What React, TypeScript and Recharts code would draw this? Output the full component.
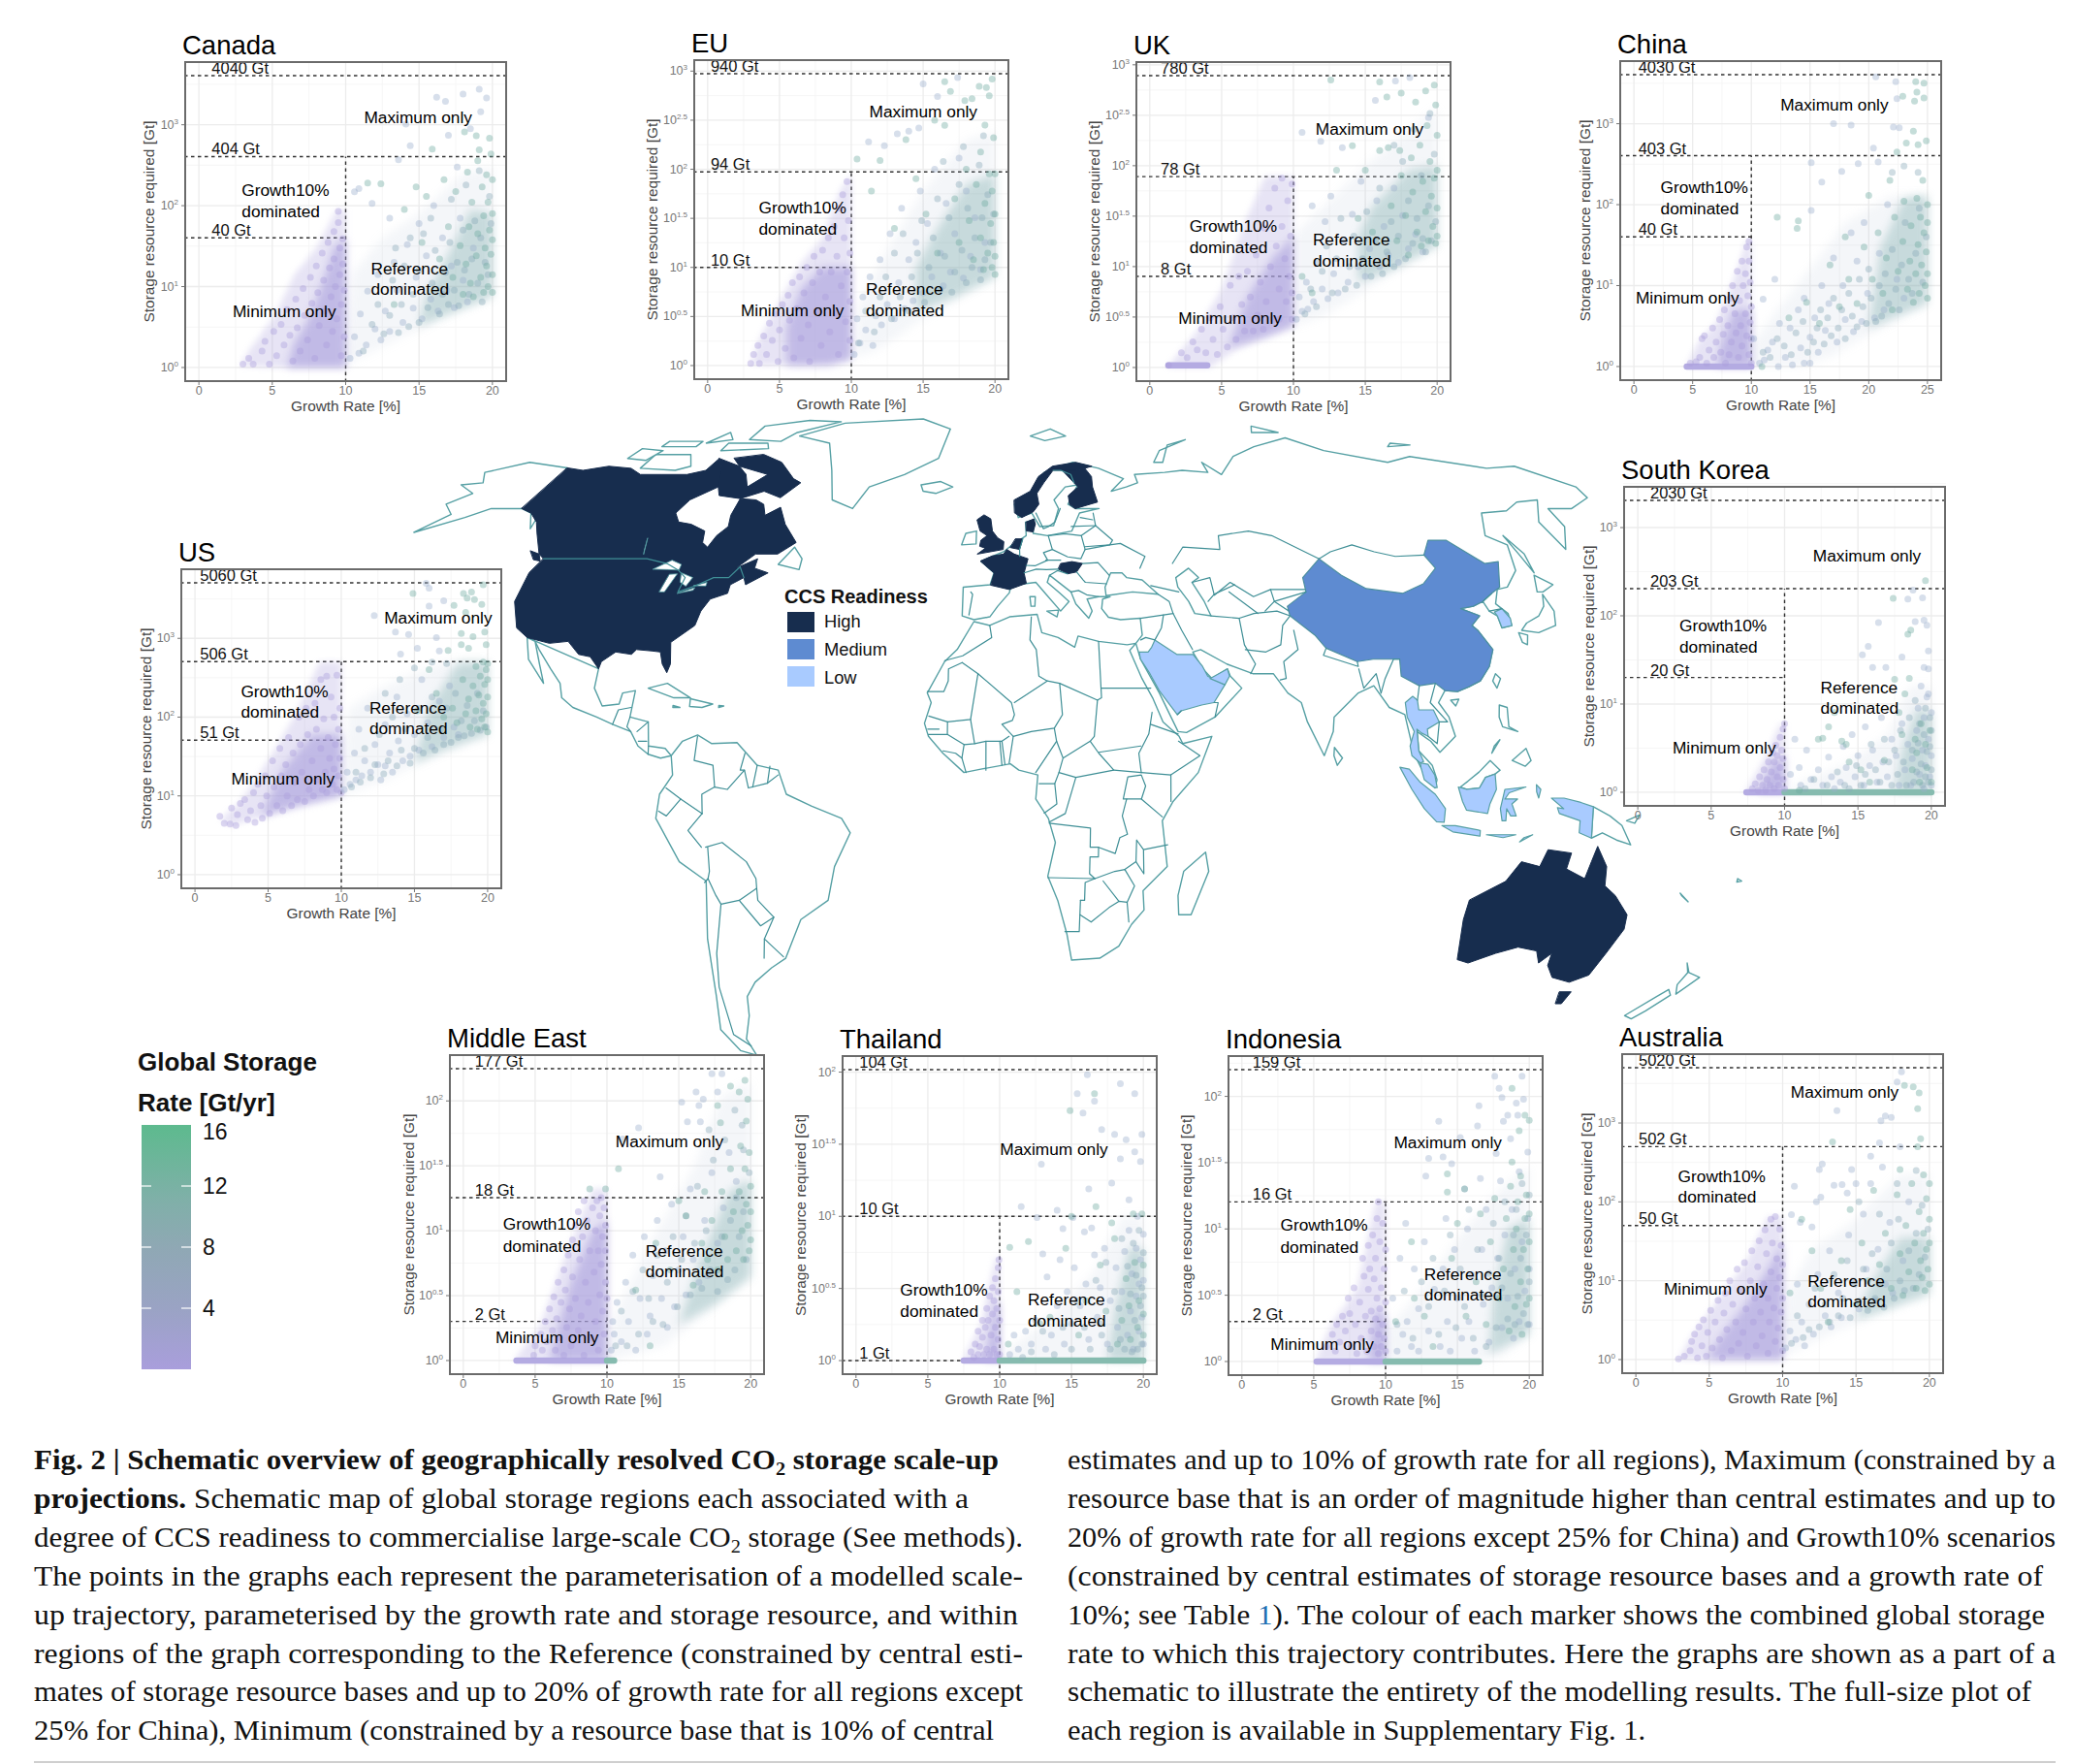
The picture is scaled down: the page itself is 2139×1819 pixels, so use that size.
import { CartesianGrid, ReferenceDot, ReferenceLine, Scatter, ScatterChart, XAxis, YAxis } from 'recharts'

type Pair = [number, number]
type Note = [string, number, number]

const SANS = '"Liberation Sans", Arial, sans-serif'
const SERIF = '"Liberation Serif", "Times New Roman", serif'

// ---- map outlines, lon/lat, rough hand read -------------------------------
const highReadiness: Pair[][] = [
  [[-141,69.6],[-135,69],[-128,70],[-120,69.5],[-115,68],[-108,68],[-100,68],[-95,69],[-94,72],[-90,69],[-85,69.5],[-81,68],[-87,65],[-93,62],[-94.5,59],[-92,57],[-88,56.5],[-83,55],[-82,52.5],[-80,51.5],[-79,54],[-77,56],[-78,58.5],[-78,62.3],[-73,62],[-70,61],[-68,58.5],[-64.5,60.3],[-61,56.5],[-56,52.5],[-60,50],[-66,50],[-70,47],[-65,49],[-65,47],[-61,46],[-66,43.5],[-67,45],[-69,47.3],[-71,45],[-75,45],[-79,43.3],[-83,42],[-82.5,45],[-85,46.5],[-89,48],[-95,49],[-123,49],[-125,50],[-130,54.5],[-133,57],[-137,59],[-141,60]],
  [[-94,72],[-85,70],[-81,68],[-78,65],[-72,64],[-78,62.3],[-85,63],[-87,65],[-90,69]],
  [[-80,73],[-72,71],[-65,67],[-62,66],[-66,62.5],[-72,64],[-78,65],[-74,68],[-85,70],[-89,72]],
  [[-123,49],[-95,49],[-89,48],[-85,46.5],[-82.5,45],[-83,42],[-79,43.3],[-75,45],[-71,45],[-69,47.3],[-67,45],[-70,43.5],[-70,41.7],[-74,40.5],[-75.5,38],[-76,35],[-81,31.5],[-80,27],[-80.5,25.2],[-82,27],[-83,29.5],[-85,29.7],[-89,30],[-90,29],[-94,29.5],[-97,27.5],[-97.3,26],[-100,28.5],[-103,29],[-106.5,31.7],[-111,31.3],[-117,32.5],[-120.5,34.5],[-124,40],[-124.5,46]],
  [[-128,50.7],[-125,50],[-123.5,48.5],[-125.5,48.8]],
  [[-5.5,50],[1.5,51],[1.7,52.7],[0,53.5],[-1.5,55],[-2,57.7],[-4,58.6],[-6,57.5],[-5,55],[-3,54],[-4.7,53],[-5,51.7],[-3.5,51.3]],
  [[-1.8,43.4],[3,42.5],[7.5,43.8],[7,46],[8.2,49],[4.5,50],[2.5,51],[1.6,50],[-1.5,49.6],[-4.7,48.5],[-1,46]],
  [[3.5,51.4],[6,51],[7,53.3],[5,53.3]],
  [[8.2,55],[10,54.8],[10.8,56.5],[10.5,57.7],[8.2,57]],
  [[5,59],[7,58],[10.5,59.3],[12.3,61],[12,63.5],[14.5,66],[18,69],[21,69],[25.5,69],[28.5,69.5],[31,70],[26,71],[18,70],[13,67.5],[10,64],[5,62]],
  [[23,60],[30,61.5],[29.5,65],[30,67.5],[28.5,69.5],[25.5,69],[21,69],[24,66],[25,65],[21.5,63],[21.5,61]],
  [[16.2,46.8],[18.5,45.8],[21,46.2],[22.8,48],[20,48.4],[17,48]],
  [[114,-22],[113.5,-26],[115,-34.3],[118,-35],[124,-33],[129,-31.7],[134,-32.5],[135.7,-35],[138,-33],[138.3,-35.5],[141,-38],[146,-39],[150,-37.5],[151.5,-33],[153.5,-28],[153,-25],[149,-21],[146,-19],[145.5,-15],[142.7,-10.8],[141.7,-14],[140.8,-17.5],[136,-15.5],[136.7,-12.2],[131,-11.5],[129.5,-15],[125,-14],[122,-18]],
  [[145,-41],[148,-41],[147.5,-43.5],[146,-43.5]],
]
const mediumReadiness: Pair[][] = [
  [[74,39],[80,42],[80.5,45],[87,49],[91,45.5],[96,42.7],[105,41.7],[111.5,43.7],[117,47],[116,49.8],[120,53],[125,53],[131,48],[135,48.4],[131,43],[128,41.7],[124.5,40],[121.5,39],[118,38.5],[122,37],[119,35],[120,34],[122,30],[120,26.5],[117,23.5],[114,22.3],[111,21.3],[108,21.5],[106,23],[102,22.5],[98,24.5],[98.5,28],[92,28],[88,27.5],[81,30.3],[79,33],[74,37]],
]
const lowReadiness: Pair[][] = [
  [[35,28],[34.8,29.5],[37,29.5],[38,30.5],[39,32],[44,29],[48,29],[50,26.5],[51,24.5],[55,22.7],[52,19],[49,18.5],[44,17.3],[43,16.5],[41,19],[39,21.5],[37,25]],
  [[51.5,24],[56,26],[56.3,24.5],[55,22.7]],
  [[126.2,37.8],[128.5,38.5],[129.5,36.5],[129,35],[126.3,34.5],[126.5,37]],
  [[98,10],[99.3,13],[98,16],[98,19],[100,20.3],[101,19.5],[101,17.5],[104.5,17.5],[105.5,15],[102.5,13.5],[102.5,12],[101,12.7],[100,13.5],[100,9],[101,6.8],[100.2,6.5],[98.3,8]],
  [[100.2,6.5],[102,6.2],[103.5,4],[104,1.4],[103.3,1.4],[101,3],[100.3,5.5]],
  [[95.3,5.6],[97.5,5.2],[100,2.5],[103.5,0],[106,-3],[105.8,-5.8],[104,-5.7],[101,-3],[98,1]],
  [[105.3,-6.5],[108.5,-6.5],[114.5,-7.5],[114.5,-8.7],[108,-7.8]],
  [[109,1.5],[111,1],[114,1.3],[115.5,3.5],[117.8,4.2],[118,1],[116.5,-2],[116,-4],[111,-3.3],[110,-1.5]],
  [[120,1],[125,1.5],[121,0.3],[120,-1],[123,-1],[121.7,-2],[122.8,-4.5],[121.5,-4.5],[120.5,-3],[120.4,-5.5],[119.5,-5.5],[119,-3]],
  [[131,-0.8],[134,-0.8],[138,-1.7],[141,-2.6],[141,-9.1],[138,-8],[138,-5.5],[133,-4],[132.5,-2.8],[134,-3]],
  [[116,-8.4],[119,-8.4],[123,-8.4],[120,-9]],
  [[124,-9.9],[127,-8.4],[125,-9]],
  [[127.5,2],[128.5,1],[128,-0.8],[127.5,0.5]],
]
const coastlines: Pair[][] = [
  [[-141,69.6],[-156,71],[-166,68.5],[-162,66],[-168,65.5],[-161,63.5],[-165,61],[-160,58.7],[-165,54.7],[-155,58],[-150,60],[-141,60],[-137,59],[-133,55.5]],
  [[-73,78],[-60,82],[-30,83.5],[-18,80],[-20,72],[-30,68],[-40,65],[-43,60],[-50,62],[-54,69],[-60,76]],
  [[-90,77],[-78,76.5],[-75,79],[-62,82.5],[-75,83],[-90,81]],
  [[-117,69.5],[-105,69],[-101,70],[-105,73],[-117,73]],
  [[-125,72],[-118,71.5],[-116,74],[-124,74.5]],
  [[-96,74],[-80,74.5],[-82,76],[-96,76]],
  [[-118,75],[-106,75],[-106,76.5],[-118,76.5]],
  [[-104,76],[-96,77],[-100,79]],
  [[-59,47.8],[-53,46.7],[-53,49],[-56,51.5]],
  [[-117,32.5],[-114.7,31.7],[-113,30],[-109,26],[-106,23],[-105,20],[-102,18],[-96,16],[-92,14.5],[-87.5,13],[-85.5,10],[-83,8.3],[-80,7.5],[-77.5,8],[-79,9.5],[-83,10],[-83.5,15],[-88,16],[-87.5,21.5],[-90.5,21],[-91,18.7],[-95,18.3],[-97.5,22],[-97.3,26]],
  [[-117,32.5],[-115,28],[-110,23],[-112,27],[-114.7,31.7]],
  [[-84.5,22],[-80,23],[-74,20],[-78,20]],
  [[-74,19.8],[-68.5,18.7],[-71,18],[-74,18.2]],
  [[-78,18.4],[-76.3,18],[-78,18]],
  [[-67,18.4],[-65.8,18.3],[-67,18]],
  [[-77.5,8],[-75,11],[-71.5,12.3],[-68,10.5],[-62,10.7],[-57,6],[-52,5],[-50,0],[-44,-2.5],[-37,-5],[-35,-8],[-39,-15],[-41,-22],[-48,-26],[-53,-34],[-57,-36],[-62,-39],[-65,-42],[-66,-46],[-69,-51],[-68,-54.5],[-72,-53.5],[-75,-49],[-73,-42],[-71.5,-30],[-70,-18],[-76,-14],[-81,-5],[-80,0],[-77,4]],
  [[-6,35.8],[-2,35],[3,36.8],[10,37.3],[11,33.5],[15,32.5],[19,30.5],[20,32.8],[25,31.7],[32,31],[34.2,31.3],[32.5,29.8],[35,24],[37.3,20],[39.5,15],[43.2,12],[44,10.5],[51,12],[47.5,4.5],[41.5,-1.5],[39,-5.5],[40.5,-15],[35,-20],[35.5,-24],[32.7,-27],[30,-31.5],[25.5,-34],[18.5,-34.4],[17,-29],[14.5,-22],[12,-17],[13.7,-10],[12,-5],[9,-1],[9.5,4],[5,5],[3,6.3],[-4,5.2],[-8,4.5],[-13,8.5],[-16.5,12],[-17.5,14.7],[-16,19],[-17,21],[-13,27.5],[-10,30]],
  [[49.5,-12],[50.5,-16],[47,-25],[44,-25],[43.5,-21],[44.5,-16]],
  [[-9,37],[-6,36.2],[-2,36.8],[0,39],[3,41.8],[3.5,43.3],[7,43.7],[10,44],[12.5,41.5],[16,38],[18.3,40],[16,41.8],[13,44],[13.7,45.5],[14.5,45],[19,42],[20,39.5],[23,36.5],[24,38],[23,40.5],[26,41],[29,41],[27,40.5],[26.5,38.5],[28,36.7],[31,36.2],[36,36.5],[36,33],[34.2,31.3],[35,28],[39,21],[43,13],[45,12.8],[52,16],[59,22],[56.5,24.5],[56,26],[52,24],[50,26],[48,29.5],[50,30],[56,27],[62,25],[67,25],[70,21],[73,19],[74,15],[77.5,8],[80,13],[80.5,16],[87,21],[91,22.5],[94,18],[97.5,16.5],[98.5,10],[98.5,9],[100.3,5.5],[103.5,1.3],[104,3],[103,6],[100,9],[100,13],[103,11],[105,8.7],[109,12],[108,16],[106,19],[108,21.5],[111,21.3],[114,22.3],[117,23.5],[120,26.5],[122,30],[120,34],[119,35],[122,37],[118,38.5],[121.5,39],[124.5,40],[125,38],[126.5,37],[126.3,34.5],[129,35],[129.5,37.5],[127.5,39.5],[130,42.5],[133,43],[138,46.5],[141,52],[137,54],[142,59],[150,59.5],[156,61.5],[163,62],[156,57],[156,51],[162,56],[163,60],[170,60],[179,62.5],[180,65],[170,70],[160,69.5],[140,72.5],[130,71],[113,74],[105,77.5],[90,75],[80,72.5],[72,68],[68,71],[68,68.5],[60,69],[54,68.5],[44,68],[44,66],[40,65],[35,64],[40,67],[33,69.5],[25,71],[15,68.5],[10,63.5],[5,61],[6,58],[10,59],[12,56],[16,56.2],[18,60],[17,62],[21,65],[25,65.5],[21,61],[23,60],[30,60],[24,59],[21,55],[14,54],[10,54.5],[10.5,57.5],[8,57],[8,54],[4,52],[1.6,50.5],[-1.5,49.5],[-4.5,48.5],[-1,46],[-2,43.5],[-9,43]],
  [[28,41.2],[35,42],[41.5,41.5],[38,44.5],[34,45],[33,46],[30,46],[28,43]],
  [[47,45],[51,47],[53,45],[51,44],[53,40],[54,37],[50,37.5],[49,40],[47,43]],
  [[-10,52],[-6,52.2],[-6,55],[-9,54.5]],
  [[-24,65.5],[-18,66.3],[-14,65],[-19,63.5],[-23,64]],
  [[12,78],[20,80],[25,78],[17,76.7]],
  [[52,71],[56,74],[68,77],[60,75.5],[55,71]],
  [[95,79],[105,79],[98,81]],
  [[137,75],[146,75.5],[140,76]],
  [[8.3,41],[9.7,41],[9.5,39],[8.5,39]],
  [[12.5,38],[15.5,38.2],[15,36.8]],
  [[131,34],[135,33.5],[140,35],[141.5,38],[141,41.5],[139.5,39],[137,37],[133,35.5]],
  [[140,42],[142,45.5],[145.3,43.5],[141.5,42]],
  [[130,33.5],[132,33],[131,31],[130,31.5]],
  [[142,54],[143.5,50],[142.5,46],[142,50]],
  [[121,25],[122,24],[120.7,22],[120,23.5]],
  [[109,19.5],[111,19.7],[110,18.3]],
  [[80,9.7],[81.8,7.5],[80.5,6],[79.8,8]],
  [[120.5,18.5],[122.3,18],[122,14],[124,13],[120.5,14],[120,16]],
  [[122,7],[125.5,9.5],[126.5,7],[125,5.8]],
  [[118,10],[119.5,11.3],[117.3,8.5]],
  [[109.5,1.5],[111.3,2.7],[114,4.6],[116.8,7],[119,5],[117.8,4.2],[115.5,3.5],[114,1.3],[111,1]],
  [[141,-2.6],[145,-4.5],[148,-6.5],[150.5,-10.5],[147,-9.5],[143.5,-8],[141,-9.1]],
  [[149,-5.5],[152,-4.3],[151,-6]],
  [[173,-35],[175,-37],[178.5,-38],[175.5,-41.5],[174,-39.5],[174.7,-37]],
  [[172.7,-40.5],[174.3,-41.7],[171,-45],[169,-46.7],[166.5,-46],[171,-42]],
  [[165,-21],[167,-22.3],[164.5,-20.5]],
  [[177.5,-17.5],[178.6,-18],[177.5,-18.2]],
]
const borderLines: Pair[][] = [
  [[-92,14.5],[-91,17.5],[-88,18]],[[-88,16],[-88.5,14],[-87.5,13]],[[-83.5,15],[-86,13]],[[-85.5,11],[-83.5,11]],[[-83,8.3],[-83,10]],
  [[-71.5,12],[-72,7],[-67.5,6],[-67,1.5]],[[-67,1.5],[-70,0],[-70,-4]],[[-70,-4],[-75,-1],[-78.5,1.3]],[[-75,-1],[-78.5,-4.5],[-80.3,-3.5]],[[-70,-4],[-73.5,-7.5],[-70.5,-11]],[[-69,-11],[-69,-16],[-69.5,-17.5],[-70.4,-18.3]],[[-69.5,-11],[-65.5,-10],[-60,-14],[-58,-17.5],[-58,-19.5],[-62.5,-22],[-67,-22.8]],[[-69.5,-17.5],[-68,-21],[-67,-22.8],[-70,-33],[-71.5,-40],[-72,-50],[-68.5,-52.5]],[[-58,-19.5],[-58,-22],[-54.5,-25.5],[-58,-27.3],[-62.5,-22]],[[-54.5,-25.5],[-57.5,-30],[-53.5,-33.7]],[[-57.5,-30],[-58.4,-34]],[[-60,8.5],[-61,5],[-60,5]],[[-67,1.5],[-64,1],[-60,5],[-59,1.3],[-54.5,2.3],[-52,4]],[[-57,6],[-58,1.5]],[[-54,5.8],[-54.5,2.3]],
  [[-2,35],[-1.5,32.5],[-8.6,28.7],[-13,27.7]],[[-8.7,27.3],[-12,26],[-12,23.5],[-13,21.3],[-17,21.3]],[[-8.7,27.3],[-4.8,25],[3.3,19],[4,16.5],[3.5,15.3],[1,14.5],[3.7,12]],[[-4.8,25],[-6.5,15.5],[-12,15],[-16.5,16.2]],[[-6.5,15.5],[-5.5,10.5],[-8,10.3],[-12,12.4],[-12,15]],[[8.5,36.8],[8,32],[9.5,30],[10,24.5],[12,23.5],[4,19]],[[12,23.5],[15,23],[24,19.5],[25,20],[25,31.7]],[[25,22],[37,22]],[[24,19.5],[23,12],[22,11]],[[15,23],[15.5,16.5],[13.5,13.7],[8,13],[3.7,12],[2.7,6.4]],[[13.5,13.7],[14,11],[9,4.5]],[[14,11],[15.5,7.5],[14.5,4.5],[18.5,3.5],[27.5,5],[24,8.5],[22,11],[15.5,7.5]],[[18.5,3.5],[16,-4],[12.2,-5.8]],[[9.8,2.2],[13.5,2.2],[14.5,4.5]],[[11,-3.9],[14,-2],[13.5,2.2]],[[12.2,-6],[22,-7],[22,-11],[24,-11],[24,-13],[22,-13],[22,-16.5],[23.3,-17.5],[12,-17.3]],[[20,-22],[20,-28.5],[16.5,-28.5]],[[23.3,-17.5],[21,-18.3],[21,-22],[20,-22]],[[20,-25],[22.8,-26.5],[27,-23.5],[29.3,-22.2],[31.3,-22.4],[32,-26.5]],[[25.3,-18],[29.3,-22.2]],[[23.3,-17.5],[28,-16],[30.4,-15.6],[32.9,-19],[31.3,-22.4]],[[24,-11],[28,-12.3],[29,-9],[30.8,-8.3],[29.5,-4.5],[30.5,-1],[34,-1],[39,-4.7]],[[30.5,-1],[29.7,-1],[30.8,3.6],[34,4],[35,1.7],[34,-1]],[[40.4,-10.5],[34.7,-11.5],[33,-9.5],[33,-14],[35,-16.5],[34.7,-11.5]],[[30.4,-15.6],[33,-14]],[[34,4.5],[41,4],[41,-1.5]],[[41,4],[48,8],[43,11]],[[36.5,14.5],[43,12.5]],[[37,17],[36,12.5],[33.5,8.5],[34,4.5]],[[24,8.7],[34,10]],[[27.5,5],[34,4.5]],[[-8,10.3],[-8.5,7.5],[-7.5,4.5]],[[-2.8,5],[-2.8,11]],[[-5.5,10.5],[-2.8,11],[1,11],[2.7,12]],[[1,6],[0.5,11]],[[1.7,6.2],[1,11]],[[-13,9],[-10,8.5],[-8.5,7.5]],[[-16.5,12.4],[-12,12.4]],[[-16.7,13.5],[-14,13.5]],
  [[-7,42],[-6.5,41.5],[-7.3,37.2]],[[7,53.3],[6,51],[6,49.5]],[[14.2,54],[15,51],[12.5,50.3],[13.5,48.7],[10,47.5],[7.6,47.6]],[[14.2,54],[19,54.4],[23.5,54],[24,51],[22.5,49],[19,49.4],[15,51]],[[13,48.7],[17,48.7]],[[7,46],[10.3,46.8],[13,46.7],[16.2,46.8]],[[13.7,45.5],[16,46.5],[18.5,45.8]],[[19,42],[21,42.3],[23,41.4],[26,41]],[[22.8,48],[27,48.2],[29.5,45.5]],[[21,46.2],[22.5,44.5],[23,44],[28.5,43.7]],[[21,56],[28,56.2]],[[24,58],[27.5,57.5]],[[23.5,54],[28,56.2],[32,53],[31,52],[24,51.6]],[[24,51],[31,52],[34,52.3],[40,49.5],[38,47]],[[11.2,59],[13,55.5],[14.5,56],[16.5,57],[18.5,60]],[[18,69],[20.5,69],[23.5,68],[24,66]],[[28,59],[28,56.2]],
  [[36,36.5],[42,37.2],[44.5,37.5],[44,40],[41.5,41.5]],[[40,43.3],[47,42]],[[44.5,37.5],[46,34],[48,30]],[[42,37.2],[41,34.5],[39,32],[36.8,32.5],[35.5,32]],[[43,16.5],[44,17.3]],[[52,19],[53,19],[52,16]],[[54,37],[61,36.5],[61,31],[63,27],[61.5,25]],[[61,36.5],[65,37.5],[71,38],[74,37],[71.5,35],[70,31],[66,29.5],[61,30]],[[54,40],[56,41.5],[59,42.5],[62,43.5]],[[51,44],[56,45],[56,41.3],[61,44],[66,41],[71,42.5],[80,42.5]],[[47,48],[51,51.5],[61,51],[62,54],[71,55],[77,54],[87,49]],[[60,42],[66,37.5]],[[71,42.5],[71,40],[80,42]],[[68,38],[71,40],[74,38]],[[87,49],[91,50.5],[98,52],[103,50.5],[108,49.5],[116,49.8]],[[74,34],[74,30],[70,27.5],[70,24],[68.5,23.7]],[[81,30.3],[80,28.8],[88,26.5],[88,27.5]],[[88,26],[88.5,22],[92,25],[92.5,21]],[[92.5,21],[94,24],[97,28],[98.5,28]],[[101,19.5],[102,22.5]],[[106,23],[104,19],[107.5,15],[105.5,15]],[[102.5,12],[104.5,10.5],[105.5,15]],[[124.5,40],[128,41.7]],[[125,38],[128.5,38.5]],
  [[-123,49],[-95,49],[-89,48],[-85,46.5],[-82.5,45],[-83,42],[-79,43.3],[-75,45],[-71,45],[-69,47.3],[-67,45]],
]
const lakes: Pair[][] = [
  [[-92,46.8],[-88,48.7],[-85,47.8],[-85,46.6],[-88,46.7]],
  [[-87.8,42],[-86.5,42],[-85,45.8],[-87,45.7]],
  [[-84,46],[-80.5,45],[-81.5,43.2],[-83.3,44]],
  [[-83,41.7],[-79,42.9],[-79.2,42.4]],
  [[-79.5,43.3],[-76.3,44],[-76.3,43.3]],
  [[-96.5,50],[-98,53.5],[-97,51]],
]

// Robinson table, every 5 degrees of latitude
const robinsonX = [1,0.9986,0.9954,0.99,0.9822,0.973,0.96,0.9427,0.9216,0.8962,0.8679,0.835,0.7986,0.7597,0.7186,0.6732,0.6213,0.5722,0.5322]
const robinsonY = [0,0.062,0.124,0.186,0.248,0.31,0.372,0.434,0.4958,0.5571,0.6176,0.6769,0.7346,0.7903,0.8435,0.8936,0.9394,0.9761,1]

function project([lon, lat]: Pair) {
  const a = Math.abs(lat) / 5
  const i = Math.min(Math.floor(a), 17)
  const f = a - i
  return {
    x: (robinsonX[i] + (robinsonX[i + 1] - robinsonX[i]) * f) * lon,
    y: Math.sign(lat) * (robinsonY[i] + (robinsonY[i + 1] - robinsonY[i]) * f),
  }
}

const outline = (fill: string, stroke: string, width: number, closed: boolean, extra: any = {}) => (props: any) => {
  const d = props.points.map((p: any, i: number) => `${i ? 'L' : 'M'}${p.x} ${p.y}`).join('') + (closed ? 'Z' : '')
  return <path d={d} fill={fill} stroke={stroke} strokeWidth={width} strokeLinejoin="round" strokeLinecap="round" {...extra} />
}
const noDot = () => null

// ---- scatter panels, values read by eye from the crops ---------------------
const canadaLow: Pair[] = [[3,1.1],[3.4,1.3],[3.7,1.1],[4.3,1.6],[4.5,2.1],[4.8,1.1],[5.1,2.8],[5.3,1.4],[5.6,3.4],[5.8,1.9],[6,5.2],[6.2,2.5],[6.4,1.2],[6.6,7],[6.7,3.1],[6.9,1.6],[7.1,9.5],[7.2,4.4],[7.4,2.2],[7.6,13],[7.7,6.2],[7.9,1.3],[8,18],[8.1,8.4],[8.2,3.3],[8.4,26],[8.5,12],[8.6,5],[8.7,1.9],[8.8,35],[8.9,17],[9,7.5],[9.1,2.8],[9.2,48],[9.2,22],[9.3,10],[9.4,4],[9.5,85],[9.5,62],[9.6,30],[9.6,14],[9.7,6],[9.8,39],[9.8,19],[9.9,9],[9.9,2.4],[9.7,1.4]]
const canadaMid: Pair[] = [[10.3,1.3],[10.6,2.4],[10.6,148],[10.9,1.5],[10.9,162],[11,4.6],[11.4,1.9],[11.5,8.8],[11.8,107],[12,3],[12.2,14],[12.4,2.2],[12.7,5],[13,70],[13,2.8],[13.3,20],[13.5,9],[13.6,370],[13.9,3.6],[14.2,33],[14.4,550],[14.1,1020],[14.6,5.4],[14.8,13],[15,60],[15.2,4],[15.5,24],[15.8,7],[16,100],[16.2,2190],[16.3,5],[16.6,40],[16.8,1950],[16.9,9],[17,740],[17.2,18],[17.4,5.5],[17.6,300],[17.8,70],[18,2400],[18,12],[18.3,6.5],[18.5,890],[18.7,30],[19.1,2750],[19.2,1450],[19.6,2150]]
const canadaHigh: Pair[] = [[11.5,190],[12.4,186],[13.3,6],[14,90],[14.8,170],[15.2,35],[15.5,130],[15.9,500],[16.4,22],[16.7,210],[17,55],[17.3,13],[17.5,150],[17.8,32],[18,8],[18.1,815],[18.2,19],[18.3,260],[18.4,55],[18.5,11],[18.6,110],[18.7,7.5],[18.9,730],[18.9,24],[19,360],[19,45],[19.1,490],[19.2,13],[19.3,170],[19.4,75],[19.4,8.5],[19.5,30],[19.6,240],[19.6,18],[19.7,110],[19.7,10],[19.8,680],[19.8,50],[19.9,437],[19.9,25],[20,210],[20,80],[20,14],[20,8.5],[20,38]]
const canadaMore: Pair[] = [[11.2,1.6],[11.8,3.4],[12.2,6],[12.6,2.6],[13,4.4],[13.2,12],[13.6,2.7],[13.8,6],[14,18],[14.3,3.2],[14.6,8],[15,3.6],[15,16],[15.3,45],[15.6,5.5],[15.9,11],[16.1,28],[16.4,4.6],[16.6,8],[16.8,15],[17,6],[17.1,35],[17.4,9],[17.6,20],[17.7,5.8],[18,50],[18.1,16],[18.4,8],[18.6,22],[18.8,65],[19,11],[19.2,40],[19.3,6.5],[19.5,20],[19.7,14],[19.8,130],[19.9,60],[15.8,70],[14.4,40],[13.4,30],[17.2,120],[18.2,180],[19.1,270]]
const canadaEdges: Pair[][] = [[[2.8,1.05],[5,1],[10,1],[10,90],[9.4,90],[8,30],[6.5,14],[5.2,4.5],[3.5,1.7]],[[6,1],[10,1],[10,40],[9.2,30],[8.5,12],[7.5,4],[6.5,2]],[[10,1.1],[13,2],[17,4.5],[20,7.5],[20,300],[18,250],[15,80],[12.5,40],[10.5,15]],[[15,3.2],[17,4.6],[20,7.5],[20,80],[18.5,90],[17,25],[15.5,8]]]
const canadaNotes: Note[] = [['Maximum only',557,174],['Growth10%',178,401],['dominated',178,468],['Reference',578,646],['dominated',578,710],['Minimum only',150,778]]

const euLow: Pair[] = [[3,1.05],[3.2,1.3],[3.5,1.6],[3.6,1.05],[3.9,2],[4.1,1.3],[4.3,2.7],[4.5,1.8],[4.7,3.4],[4.9,1.1],[5,2.3],[5.2,4.2],[5.4,1.5],[5.6,5.2],[5.7,2.9],[5.9,7],[6,1.2],[6.2,3.8],[6.4,8],[6.5,1.9],[6.7,5.5],[6.9,10],[7,2.6],[7.1,1.1],[7.3,7],[7.4,13],[7.6,3.6],[7.8,9],[7.9,1.6],[8,15],[8.2,5],[8.4,20],[8.5,2.2],[8.6,9],[8.8,26],[8.9,3.4],[9,13],[9.1,1.3],[9.2,40],[9.3,6.5],[9.4,55],[9.5,20],[9.6,2.8],[9.7,75],[9.7,9],[9.8,30],[9.9,4.5],[9.9,14],[9.9,1.8]]
const euMid: Pair[] = [[10.2,1.3],[10.4,3],[10.6,1.7],[10.8,5],[11,2.3],[11.2,190],[11.3,8],[11.5,1.6],[11.7,3.2],[12,12],[12.1,2.6],[12.3,174],[12.5,4.2],[12.7,22],[13,3],[13.2,229],[13.3,7],[13.5,40],[13.7,3.8],[14,245],[14,12],[14.3,4.6],[14.5,18],[14.7,263],[14.8,60],[15,740],[15,5.5],[15.3,28],[15.6,8],[15.8,100],[16,550],[16.2,14],[16.4,6.5],[16.6,45],[16.9,9],[17.2,22],[17.4,860],[17.5,130],[17.8,7.8],[18,60],[18.3,13],[18.6,32],[19,9.5],[19.3,18]]
const euHigh: Pair[] = [[10.4,127],[11.4,60],[12,123],[13,25],[13.8,200],[14.5,80],[15.2,35],[15.8,316],[16,14],[16.5,280],[16.5,780],[16.9,620],[17.2,50],[17.5,18],[17.9,500],[18,100],[18.2,30],[18.4,525],[18.5,12],[18.7,70],[18.9,700],[19,20],[19,150],[19.2,9.5],[19.3,282],[19.3,45],[19.4,680],[19.5,14],[19.6,560],[19.6,90],[19.7,28],[19.8,830],[19.8,10],[19.8,60],[19.9,18],[19.9,210],[20,35],[20,13],[20,90],[20,8.5]]
const euMore: Pair[] = [[10.5,1.7],[11,3.6],[11.6,2.2],[12,5],[12.4,8],[12.8,3],[13,14],[13.4,5],[13.6,22],[14,3.6],[14.2,8],[14.6,14],[14.9,30],[15.1,4.4],[15.4,10],[15.7,20],[16,50],[16.2,6],[16.5,13],[16.8,32],[17,5.6],[17.2,9],[17.5,70],[17.7,15],[18,7],[18.1,40],[18.4,10],[18.6,20],[18.9,110],[19,7.5],[19.1,32],[19.3,12],[19.5,55],[19.7,18],[19.9,35],[16.4,120],[17.8,170],[19.2,220]]
const euEdges: Pair[][] = [[[3,1.05],[4,1],[10,1.1],[10,90],[9.2,60],[8,20],[6.5,11],[5,4.5],[3.7,2]],[[5.5,1],[8.5,1],[10,1.2],[10,10],[8,10],[6.5,6],[5.5,2.5]],[[10.2,1.2],[12,1.5],[14.5,2.7],[17,4.6],[20,7.9],[20,240],[18,200],[15,60],[12.5,15],[10.5,4]],[[14.5,3.6],[17,4.8],[20,7.9],[20,90],[18,70],[16,25],[14.5,10]]]
const euNotes: Note[] = [['Maximum only',557,164],['Growth10%',207,462],['dominated',207,529],['Reference',546,715],['dominated',546,782],['Minimum only',150,782]]

const ukLow: Pair[] = [[1.3,1.05],[2.2,1.4],[2.6,1.25],[3,1.8],[3.3,1.5],[3.6,2.4],[3.9,1.4],[4.2,3.1],[4.4,1.9],[4.7,1.35],[4.9,4],[5.1,2.4],[5.4,1.6],[5.6,6.5],[5.8,3.1],[6,1.9],[6.2,8],[6.4,4.2],[6.6,2.3],[6.8,9],[7,5],[7.2,2.3],[7.4,13],[7.5,3.3],[7.7,7],[7.9,2.4],[8,24],[8.1,4.5],[8.3,38],[8.4,10],[8.6,3],[8.7,60],[8.8,16],[9,6],[9,3],[9.2,75],[9.2,25],[9.4,12],[9.5,4.5],[9.6,45],[9.7,8],[9.8,20],[9.9,3],[9.9,66],[9.9,5.5]]
const ukMid: Pair[] = [[10.2,3],[10.4,5],[10.6,3.6],[10.6,214],[10.9,7],[11,3.8],[11.3,40],[11.4,4.5],[11.6,11],[11.9,174],[12,6],[12.2,28],[12.4,4.8],[12.6,50],[12.8,8.5],[13.1,5.5],[13.4,151],[13.5,18],[13.8,7],[14.1,33],[14.5,10],[14.7,70],[15,8],[15.3,15],[15.7,445],[15.8,45],[16,10],[16.3,25],[16.6,13],[17,60],[17.1,690],[17.3,11],[17.6,32],[18,15],[18.1,745],[18.5,21],[19,14],[19.4,300]]
const ukHigh: Pair[] = [[10.6,8],[11.3,5.5],[12.6,708],[13,90],[14.1,158],[14.5,30],[15,90],[15.5,22],[16,676],[16,141],[16.5,480],[16.6,151],[16.8,40],[17.2,18],[17.4,141],[17.5,525],[17.5,80],[17.8,32],[18,13],[18.2,120],[18.3,55],[18.5,427],[18.6,22],[18.8,160],[18.9,16],[19,70],[19.2,550],[19.2,35],[19.3,250],[19.4,18],[19.5,110],[19.6,50],[19.7,25],[19.8,630],[19.8,75],[19.9,400],[19.9,17],[20,200],[20,38],[20,90],[20,20]]
const ukMore: Pair[] = [[10.8,3.4],[11.2,6],[11.6,4],[12,9],[12.3,16],[12.7,5.5],[13,12],[13.3,30],[13.6,6],[13.9,10],[14.2,20],[14.4,6.5],[14.8,12],[15.1,35],[15.4,8],[15.7,18],[16,60],[16.2,8.5],[16.5,14],[16.8,28],[17,10],[17.3,20],[17.6,110],[17.8,12],[18,45],[18.3,17],[18.6,30],[18.9,80],[19,19],[19.2,14],[19.4,40],[19.6,18],[19.8,130],[19.9,28],[17,160],[18.4,230],[19.5,330]]
const ukEdges: Pair[][] = [[[1.2,1],[4.2,1],[6,1.5],[8,2],[10,2.5],[10,78],[8,78],[6.5,25],[5,6],[3.2,2.2]],[[5.5,1.6],[8,2],[10,2.6],[10,20],[8.5,12],[6.8,5]],[[10.2,2.6],[12.3,3.4],[14.7,5.5],[17,9],[20,16],[20,380],[18,220],[15,100],[12.5,45],[10.2,22]],[[14.5,7],[17,9.5],[20,16],[20,100],[18,90],[15.5,40],[14.5,20]]]
const ukFloorLow: Pair[] = [[1.3,1.05],[4,1.05]]
const ukNotes: Note[] = [['Maximum only',570,212],['Growth10%',171,513],['dominated',171,581],['Reference',561,557],['dominated',561,621],['Minimum only',136,800]]

const chinaLow: Pair[] = [[4.8,1.1],[5.3,1.15],[5.6,1.3],[5.8,2.2],[6,2.4],[6.2,1.1],[6.4,1.6],[6.7,3],[6.8,1.3],[7,2],[7.3,3.8],[7.4,1.5],[7.6,2.5],[7.7,5],[7.8,1.1],[8,3.2],[8.1,1.4],[8.2,7],[8.3,2],[8.4,10],[8.6,4.5],[8.7,2.6],[8.8,15],[8.9,1.3],[9,6.5],[9.1,3.2],[9.2,20],[9.2,1.8],[9.3,10],[9.5,4.5],[9.5,14],[9.6,30],[9.6,2.4],[9.7,7.5],[9.8,35],[9.8,1.4],[9.8,20],[9.9,3.5],[9.9,11],[10,5.5],[10,1.1],[10,2.2]]
const chinaMid: Pair[] = [[10.2,2.2],[10.7,1.1],[11,6.8],[11.1,1.2],[11.4,1.6],[11.8,2],[12,12],[12.3,1],[12.4,3.4],[12.9,1.3],[13.3,3],[13.5,1.05],[14,5],[14.2,1.7],[14.5,7],[14.5,1.1],[15,2.3],[15,1.1],[15.1,85],[15.1,331],[15.4,4],[15.7,1.5],[16,190],[16,10],[16.3,2.8],[16.6,6],[17,1000],[17,22],[17.3,2],[17.7,257],[17.8,10],[18,3.8],[18.5,960],[18.5,45],[18.7,2.7],[19,20],[19.1,322],[19.4,3.6],[19.6,60],[19.9,8],[20.4,500],[20.5,4],[20.6,3800],[20.8,338],[20.9,25],[21.3,5],[21.6,100],[22.1,910],[22.3,3300],[22.4,2040],[22.4,12],[22.6,890],[23,7]]
const chinaHigh: Pair[] = [[10.9,1],[12.2,70],[13.2,4],[13.9,51],[14,63],[14.7,6.2],[15.8,3.4],[16.7,18],[17.5,5.5],[18,40],[18.3,12],[19,6],[19.6,30],[20,130],[20.3,12],[20.8,45],[21.2,8],[21.5,22],[21.8,200],[22,5],[22.2,70],[22.4,447],[22.5,15],[22.9,2190],[22.9,35],[23,110],[23.2,575],[23.3,9],[23.5,20],[23.6,55],[23.8,810],[23.8,6.2],[23.9,1900],[24,3300],[24,14],[24.1,2450],[24.1,120],[24.2,550],[24.2,32],[24.3,8],[24.4,70],[24.5,18],[24.6,200],[24.7,3160],[24.7,2080],[24.7,45],[24.8,10],[24.9,615],[24.9,26],[25,100],[25,7],[25,60],[25,14]]
const chinaMore: Pair[] = [[11,1.5],[11.6,1.3],[12.2,2.2],[12.8,1.8],[13.4,1.4],[13.8,2.6],[14.4,3.6],[14.8,1.5],[15.3,2],[15.6,3],[15.9,5],[16.2,1.9],[16.5,4],[16.8,2.4],[17,7],[17.4,3],[17.7,5],[18,2.2],[18.3,8],[18.6,4.2],[19,3.1],[19.2,12],[19.5,5.5],[19.8,3.4],[20,16],[20.2,7],[20.6,3.6],[20.9,10],[21.1,4.2],[21.4,14],[21.7,6],[22,28],[22.3,9],[22.6,5],[22.8,18],[23.1,60],[23.4,12],[23.7,8],[24,25],[24.3,90],[24.6,11],[24.9,40],[22,250],[23,300],[24.2,250]]
const chinaEdges: Pair[][] = [[[4.4,0.97],[10,0.97],[10,36],[9.6,36],[8.5,12],[7,3.5],[5.5,2]],[[7,1],[10,1],[10,5],[8.5,5],[7.5,2]],[[10,1],[14,1],[17,1.4],[20,2.5],[25,6],[25,130],[22,130],[18,60],[15,16],[12,4.5],[10.2,2]],[[20,3],[22,4],[25,6],[25,130],[23,120],[21,30]]]
const chinaFloorLow: Pair[] = [[4.5,1],[10,1]]
const chinaNotes: Note[] = [['Maximum only',499,138],['Growth10%',128,396],['dominated',128,461],['Minimum only',51,740]]

const koreaLow: Pair[] = [[7.8,1.1],[8,1.25],[8.2,1.05],[8.3,1.5],[8.5,1.2],[8.6,1.8],[8.7,1.05],[8.8,1.4],[8.9,2.2],[9,1.2],[9.1,1.7],[9.2,2.8],[9.3,1.1],[9.3,2.2],[9.4,3.4],[9.5,1.5],[9.5,2.6],[9.6,1.2],[9.7,4.2],[9.7,1.9],[9.8,3],[9.9,5.2],[9.9,1.4],[9.9,2.4],[10,1.1],[10,6]]
const koreaMid: Pair[] = [[10.4,1.6],[10.7,4],[11,1.9],[11.1,1.2],[11.5,3],[11.8,1.4],[12.3,1.8],[12.6,1.2],[13,2.5],[13.2,1.5],[13.4,1.1],[13.8,1.3],[14,3.3],[14.2,1.9],[14.6,4.5],[14.8,1.5],[15,2.6],[15.3,36],[15.4,1.2],[15.5,5.5],[15.7,45],[15.8,2],[16,26],[16,3],[16.3,1.3],[16.4,84],[16.6,7],[16.7,2.2],[16.9,26],[17,1.5],[17.3,4],[17.6,2.6],[17.8,1.2],[18,6],[18,34],[18.2,1.8],[18.4,3.5],[18.4,155],[18.6,1.2],[18.7,2.4],[18.75,195],[18.9,86],[19,5],[19.1,9],[19.2,1.6],[19.3,16],[19.4,3],[19.4,160],[19.5,1.1],[19.5,89],[19.5,7],[19.5,26],[19.6,2],[19.7,12],[19.7,78],[19.8,40],[19.8,25],[19.8,4],[19.8,13],[19.9,1.5],[20,8],[20,2.6],[20,1.2]]
const koreaHigh: Pair[] = [[11,1.05],[12.3,4],[12.6,4.1],[13,5.5],[13.4,8],[13.9,3.8],[14.2,3.5],[14.4,2.2],[15.2,1.8],[15.8,1.3],[16.8,2.3],[17.4,158],[17.5,19],[17.8,8],[18,4.5],[18.2,13],[18.4,62],[18.5,19.5],[18.6,69],[18.7,1.8],[18.9,4],[19,2.8],[19.2,1.3],[19.3,6],[19.6,250],[19.6,3.5],[19.7,1.9],[19.9,5],[20,1.3]]
const koreaMore: Pair[] = [[11.4,1.1],[12,1.4],[12.9,1.2],[13.6,1.7],[14.1,1.2],[14.4,1.1],[14.9,2],[15.2,1.2],[15.5,1.6],[15.9,3.5],[16.2,1.8],[16.5,1.3],[16.8,4],[17.1,2.2],[17.3,1.2],[17.5,3],[17.7,1.6],[17.9,5],[18.1,2.2],[18.3,1.2],[18.5,7],[18.7,3],[18.8,1.3],[18.9,11],[19,1.7],[19.1,3.6],[19.2,6],[19.3,2.1],[19.4,1.2],[19.5,4.5],[19.6,1.5],[19.6,9],[19.7,2.9],[19.8,1.3],[19.9,3.3],[19.9,7],[20,1.8],[20,5]]
const koreaEdges: Pair[][] = [[[7.3,0.98],[10,0.98],[10,6],[9.7,6],[8.5,2.2]],[[8.2,1],[10,1],[10,2.5],[9.2,2.2]],[[10.2,1],[20,1],[20,16],[18.5,16],[17,4.5],[14,2],[11,1.3]],[[17.5,1],[20,1],[20,8],[19,9],[18,3]]]
const koreaFloorLow: Pair[] = [[7.4,1],[10,1]]
const koreaFloorHigh: Pair[] = [[10,1],[20,1]]
const koreaNotes: Note[] = [['Maximum only',588,217],['Growth10%',174,434],['dominated',174,501],['Reference',611,628],['dominated',611,691],['Minimum only',153,817]]

const usLow: Pair[] = [[1.7,5.5],[2,4.5],[2.4,4.4],[2.5,7],[2.8,4.2],[2.9,5.8],[3.1,8],[3.4,9],[3.6,5],[3.8,6.5],[4,11],[4.1,4.6],[4.3,14],[4.5,7.5],[4.6,5.2],[4.8,18],[4.9,10],[5.1,6],[5.3,28],[5.4,13],[5.6,7.5],[5.8,40],[5.9,18],[6,6.5],[6.2,25],[6.3,10],[6.4,55],[6.6,7.5],[6.7,35],[6.8,15],[7,9],[7.1,100],[7.2,45],[7.3,20],[7.5,8.5],[7.6,130],[7.7,60],[7.8,12],[8,28],[8.1,10],[8.2,150],[8.3,70],[8.4,16],[8.6,300],[8.6,40],[8.7,12],[8.8,95],[8.9,20],[9,330],[9,11],[9.1,55],[9.2,30],[9.3,180],[9.4,14],[9.5,100],[9.5,22],[9.6,45],[9.7,12],[9.7,340],[9.8,70],[9.8,18],[9.9,30],[9.9,130],[10,11]]
const usMid: Pair[] = [[10.2,12],[10.4,20],[10.6,14],[10.9,35],[11,16],[11.2,70],[11.4,18],[11.6,28],[11.8,130],[12,20],[12.25,1950],[12.3,45],[12.5,25],[12.7,16],[13,80],[13,24],[13.3,35],[13.5,20],[13.7,1200],[13.8,180],[13.9,50],[14.05,630],[14.2,28],[14.5,110],[14.6,1120],[14.7,32],[15,60],[15.2,750],[15.3,38],[15.5,300],[15.8,5000],[15.9,85],[16,4350],[16,2570],[16.2,42],[16.5,1020],[16.7,160],[16.7,690],[17,3000],[17,55],[17.4,250],[17.7,75],[18,60]]
const usHigh: Pair[] = [[14.9,3700],[15.2,120],[16,400],[16.5,200],[17,100],[17.3,700],[17.6,130],[17.7,2630],[17.9,85],[18.2,1150],[18.2,830],[18.35,3700],[18.3,300],[18.5,2130],[18.5,110],[18.6,3240],[18.7,750],[18.7,170],[18.8,75],[18.9,3880],[19,1050],[19,250],[19.1,3100],[19.2,440],[19.2,120],[19.3,70],[19.4,190],[19.5,330],[19.6,2690],[19.6,95],[19.7,4800],[19.7,500],[19.7,150],[19.8,1200],[19.8,260],[19.8,75],[19.9,830],[19.9,400],[19.9,110],[20,180],[20,300],[20,65],[20,480]]
const usMore: Pair[] = [[10.7,13],[11,20],[11.3,15],[11.6,40],[12,17],[12.3,25],[12.6,60],[12.9,19],[13.2,28],[13.5,100],[13.8,24],[14.1,38],[14.4,70],[14.7,26],[15,40],[15.3,130],[15.6,35],[15.9,55],[16.2,180],[16.4,38],[16.8,70],[17,45],[17.2,130],[17.5,48],[17.8,200],[18,55],[18.2,90],[18.4,58],[18.6,140],[18.9,62],[19.1,90],[19.3,200],[19.5,68],[19.7,120],[19.9,75],[14,300],[15,420],[16.2,500],[13,200],[17.2,480]]
const usEdges: Pair[][] = [[[1.7,5],[2.5,4.2],[6,6.5],[10,10],[10,500],[8.5,500],[7,120],[5,28],[3,8]],[[4.5,5.5],[7,7.5],[10,10],[10,60],[8,60],[6,22]],[[10,10],[13,16],[16,30],[20,60],[20,500],[17,500],[13,250],[10.5,130]],[[15,26],[17,38],[20,60],[20,500],[18,500],[16,130]]]
const usNotes: Note[] = [['Maximum only',633,155],['Growth10%',188,383],['dominated',188,448],['Reference',587,434],['dominated',587,499],['Minimum only',158,656]]

const meLow: Pair[] = [[4.9,1.1],[5,1.3],[5.4,1.6],[5.5,1.2],[5.7,2],[5.8,1.4],[6,2.5],[6.2,1.7],[6.3,3.1],[6.4,1.2],[6.5,2.1],[6.6,4],[6.7,1.5],[6.8,2.8],[7,5],[7,1.1],[7.1,3.5],[7.2,1.8],[7.3,6.5],[7.4,2.5],[7.5,1.3],[7.6,8.5],[7.6,4.4],[7.8,11],[7.8,3],[8,14],[8,1.7],[8.1,6],[8.2,2.2],[8.3,9],[8.4,1.1],[8.4,17],[8.5,4],[8.6,12],[8.7,2.8],[8.8,7],[8.9,1.5],[9,15],[9.1,4.8],[9.2,10],[9.2,2],[9.3,17],[9.4,7],[9.4,1.2],[9.5,3.2],[9.5,13],[9.6,5.5],[9.6,18],[9.7,2.4],[9.7,9],[9.8,15],[9.8,1.6],[9.9,4],[9.9,7],[9.9,11],[10,3]]
const meMid: Pair[] = [[10.3,1.2],[10.4,2],[10.5,1.6],[10.7,2.8],[11,1.4],[11.1,51],[11.3,4],[11.5,2],[11.8,6.5],[12,1.2],[12.2,62],[12.3,3],[12.6,9],[12.8,1.6],[13,2.2],[13.2,4.5],[13.7,26],[13.5,12],[13.8,3],[14.1,7],[14.2,1.8],[14.5,16],[14.7,2.6],[15,5],[15.2,98],[15.3,9],[15.5,3.2],[15.6,69],[15.8,21],[16,6],[16.2,117],[16.4,92],[16.5,69],[16.4,4],[16.7,103],[16.8,12],[17,4.5],[17.3,162],[17.3,28],[17.7,8],[17.7,117],[18,162],[18.1,15],[18.5,40],[19,24]]
const meHigh: Pair[] = [[8.8,21],[9.9,21],[10.8,30],[12,3.5],[13,1.3],[13.4,8],[14.4,5],[15,17],[15.5,13],[16,3.8],[16.6,8],[16.8,20],[17,6],[17.3,12],[17.7,92],[17.7,5],[17.9,68],[18,20],[18.2,9],[18.4,6],[18.6,130],[18.6,30],[18.8,14],[19,7],[19.2,117],[19.2,20],[19.3,45],[19.4,10],[19.5,6],[19.6,144],[19.6,30],[19.7,16],[19.7,70],[19.8,103],[19.8,11],[19.9,7],[19.9,40],[20,22],[20,14],[20,8.5]]
const meMore: Pair[] = [[10.6,1.3],[11,2.4],[11.4,1.3],[11.8,3.4],[12.2,1.6],[12.5,5],[12.9,3],[13.2,2],[13.5,6.5],[13.9,1.9],[14.2,4],[14.6,9],[14.9,2.6],[15.2,6],[15.5,13],[15.8,3.2],[16.1,8],[16.3,22],[16.6,3.6],[16.9,10],[17.2,5],[17.4,35],[17.7,3.4],[18,9],[18.2,50],[18.4,4.2],[18.6,12],[18.9,5],[19,18],[19.2,9],[19.4,65],[19.5,14],[19.7,6],[19.9,28],[18.9,85],[19.5,42],[17.1,60]]
const meEdges: Pair[][] = [[[3.5,1],[10,1],[10,21],[9,21],[7,6],[5.3,1.8]],[[6,1],[10,1],[10,12],[9,10],[7.5,4],[6.6,1.8]],[[10,1],[14,1.3],[17,2.4],[20,4.4],[20,140],[18,110],[16,30],[13,8],[10.5,2.2]],[[15,1.9],[17.5,2.7],[20,4.4],[20,25],[18.5,20],[16.5,6]]]
const meFloorLow: Pair[] = [[3.7,1],[10,1]]
const meFloorHigh: Pair[] = [[10,1],[10.5,1]]
const meNotes: Note[] = [['Maximum only',527,273],['Growth10%',171,530],['dominated',171,597],['Reference',622,614],['dominated',622,677],['Minimum only',147,882]]

const thaiLow: Pair[] = [[8,1.15],[8.2,1.05],[8.3,1.3],[8.5,1.1],[8.5,1.6],[8.6,1.25],[8.8,1.45],[8.8,1.9],[8.9,1.1],[9,1.7],[9.1,2.3],[9.1,1.2],[9.2,1.9],[9.3,1.1],[9.3,2.8],[9.4,1.5],[9.5,3.2],[9.5,2.1],[9.6,1.2],[9.6,2.6],[9.7,1.7],[9.7,3.7],[9.8,1.1],[9.8,2.3],[9.9,3],[9.9,1.4],[9.9,4.4],[10,1.9],[10,1.1],[9.95,5]]
const thaiMid: Pair[] = [[10.7,1.1],[11,1.5],[11.5,11.7],[11.3,1.2],[11.8,1.6],[12.2,1.3],[12.5,1.9],[12.6,9.8],[12.9,23],[13,5.5],[13.2,1.2],[13.3,3.8],[13.6,1.5],[14,11],[14,2.4],[14.2,5],[14.4,8.2],[14.5,1.3],[14.7,3],[15,1.8],[15.1,9.8],[15.2,4.4],[15.4,71],[15.6,2.4],[15.8,52],[15.9,7.8],[16,3.4],[16.1,96],[16.2,1.4],[16.2,15.5],[16.4,8.3],[16.6,5.4],[16.6,63],[16.8,2],[17,3.2],[17.1,40],[17.3,6],[17.5,1.3],[17.7,2.6],[17.8,17],[18,37],[18.1,4.4],[18.2,1.7],[18.4,83],[18.4,25],[18.5,3],[18.7,5.7],[18.8,34],[18.9,1.5],[19,8],[19,13],[19.1,2.2],[19.2,4],[19.3,1.2],[19.4,71],[19.4,28],[19.5,6],[19.5,2.8],[19.6,10],[19.7,1.6],[19.7,3.4],[19.8,24],[19.8,5],[19.9,37],[19.9,2],[20,7.5],[20,3.6],[20,1.3]]
const thaiHigh: Pair[] = [[10.6,1.3],[10.7,6.1],[11.2,3],[12,6.7],[12.8,1.8],[13.5,2],[14.6,6],[14.9,54],[15,10],[15.5,1.5],[16,2.6],[16.6,71],[16.7,11.7],[17,4.6],[17.4,2.2],[17.8,9],[18,7],[18.2,1.3],[18.5,1.9],[18.8,3.7],[19,2.4],[19.1,1.4],[19.3,10.4],[19.4,4.8],[19.6,1.7],[19.7,2.6],[19.9,10.4],[20,2.1],[20,1.5],[20,4.6]]
const thaiMore: Pair[] = [[11.6,1.05],[12.2,1.15],[13,1.6],[13.8,1.1],[14.4,1.7],[15,1.2],[15.4,2.6],[15.9,1.7],[16.3,1.2],[16.7,3.6],[17.1,1.5],[17.4,4.8],[17.7,1.2],[18,3],[18.3,2.3],[18.5,7],[18.7,1.2],[18.9,4.5],[19.1,2.9],[19.2,1.15],[19.3,6.5],[19.4,1.9],[19.5,3.9],[19.6,1.2],[19.7,8],[19.8,2.4],[19.9,1.3],[20,5.6],[20,2.8],[19.9,3.2],[17,1.8],[18.4,1.4]]
const thaiEdges: Pair[][] = [[[7.4,1],[10,1],[10,5.2],[9.7,5.2],[8.7,1.8]],[[9,1],[10,1],[10,2.5],[9.6,2.4]],[[10.2,1],[20,1],[20,10],[18.5,10],[16.5,4],[13,1.8],[10.6,1.2]],[[17.5,1],[20,1],[20,6],[19,6],[18,2.2]]]
const thaiFloorLow: Pair[] = [[7.5,1],[10,1]]
const thaiFloorHigh: Pair[] = [[10,1],[20,1]]
const thaiNotes: Note[] = [['Maximum only',501,295],['Growth10%',185,732],['dominated',185,799],['Reference',589,763],['dominated',589,829]]

const indoLow: Pair[] = [[5.9,1.3],[6.3,1.6],[6.5,1.2],[6.6,1.9],[6.8,1.4],[7,2.2],[7.2,1.7],[7.4,3],[7.5,2.3],[7.6,1.3],[7.8,3.6],[7.9,1.9],[8,1.15],[8.2,2.8],[8.3,1.5],[8.4,6],[8.5,4.4],[8.6,2.2],[8.7,1.2],[8.8,7.5],[8.8,3.5],[8.9,5],[9,1.7],[9,2.4],[9.1,9],[9.2,4.2],[9.2,1.3],[9.3,6],[9.3,2.1],[9.4,12],[9.4,3],[9.5,1.6],[9.5,16],[9.5,1.15],[9.6,8],[9.6,2.5],[9.7,3.6],[9.7,1.3],[9.8,11],[9.8,1.9],[9.9,5],[9.9,1.5],[10,2.8],[10,1.2],[10,7]]
const indoMid: Pair[] = [[10.5,3],[10.8,1.2],[11,6],[11.2,1.6],[11.5,2],[11.4,11],[11.8,1.3],[12,5],[12.3,1.2],[12.3,2.5],[12.7,8],[12.8,25],[13,34],[13,1.7],[13.4,3.5],[13.7,65],[13.8,1.3],[14,35],[14,5],[14.2,12],[14.3,2],[14.5,1.2],[14.6,31],[14.8,7],[15,3],[15.2,49],[15.3,1.5],[15.5,20],[15.7,10],[15.8,2],[16,4.5],[16.2,1.2],[16.4,60],[16.5,85],[16.6,24],[16.7,7],[16.8,2.7],[17,14],[17.2,1.4],[17.4,3.6],[17.6,142],[17.7,37],[17.8,6],[17.9,115],[18,23],[18.1,98],[18.1,1.8],[18.2,65],[18.3,9],[18.5,72],[18.5,3],[18.7,48],[18.8,14],[18.9,1.5],[19,5],[19.1,89],[19.2,72],[19.3,27],[19.3,2],[19.5,142],[19.5,8],[19.6,95],[19.7,3.4],[19.9,38],[19.9,12],[20,5],[20,1.9]]
const indoHigh: Pair[] = [[10.7,2],[11.8,8],[12,3],[12.7,2.2],[13.3,1.3],[14.3,26],[14.3,19],[14.6,6],[15,11],[15.5,20],[15.6,2.2],[16.3,4],[16.6,13],[17,1.9],[17.3,8],[17.6,17],[17.9,3],[18.2,5],[18.4,12],[18.6,1.7],[18.7,21],[18.8,115],[18.8,32],[18.9,7],[19,2.6],[19.1,10],[19.2,16],[19.3,55],[19.4,25],[19.4,4],[19.5,1.6],[19.6,7],[19.7,12],[19.7,72],[19.8,2.7],[19.8,18],[19.9,5],[20,66],[20,8],[20,3],[20,13]]
const indoMore: Pair[] = [[10.8,1.9],[11.3,3.4],[11.9,1.5],[12.5,4],[13,2.6],[13.3,6],[13.7,1.6],[14.1,3.4],[14.5,9],[14.9,1.8],[15.2,5],[15.5,2.6],[15.8,14],[16.1,1.5],[16.4,7],[16.7,3.2],[17,1.3],[17.2,4.6],[17.5,11],[17.7,1.8],[17.9,6],[18.1,3.6],[18.3,16],[18.5,2.1],[18.7,4.6],[18.9,9],[19,1.9],[19.1,14],[19.2,3.1],[19.4,6],[19.5,22],[19.6,2.3],[19.8,9],[19.9,1.9],[20,4],[20,18]]
const indoEdges: Pair[][] = [[[5.1,1],[10,1],[10,16],[9.3,16],[8,3.5],[6.2,1.9]],[[8.8,1],[10,1],[10,2.2],[9.3,2.5]],[[10,1],[16.5,1],[18,1.1],[20,1.6],[20,30],[18,20],[15.5,10],[12,3],[10.2,1.8]],[[17.2,1.15],[20,1.6],[20,12],[18.5,10],[17.5,3]]]
const indoFloorLow: Pair[] = [[5.2,1],[10,1]]
const indoFloorHigh: Pair[] = [[10,1],[16.5,1]]
const indoNotes: Note[] = [['Maximum only',526,271],['Growth10%',167,530],['dominated',167,597],['Reference',622,682],['dominated',622,747],['Minimum only',136,901]]

const ausLow: Pair[] = [[2.9,1.02],[3.3,1.1],[3.7,1.3],[3.8,1.7],[4,2.1],[4.2,1.05],[4.3,2.6],[4.5,1.5],[4.6,3.2],[4.8,1.1],[4.9,2.2],[5.1,4.2],[5.2,1.4],[5.4,3],[5.6,5.6],[5.7,1.8],[5.9,1.05],[6,3.9],[6.1,7],[6.2,2.4],[6.4,10],[6.5,1.3],[6.6,5],[6.8,3],[6.9,14],[7,1.6],[7.1,7.5],[7.3,2.2],[7.4,17],[7.5,4.4],[7.6,1.1],[7.8,10],[7.9,24],[8,3],[8.1,6],[8.2,1.5],[8.3,15],[8.4,32],[8.5,4],[8.6,2],[8.7,9],[8.8,44],[8.9,22],[9,1.2],[9,6],[9.1,3],[9.2,60],[9.2,13],[9.3,30],[9.4,4.5],[9.5,1.7],[9.5,65],[9.6,19],[9.6,8],[9.7,2.5],[9.8,45],[9.8,11],[9.9,4],[9.9,28],[10,1.3],[10,6],[10,16]]
const ausMid: Pair[] = [[10.2,1.4],[10.5,2.3],[10.6,69],[10.8,158],[10.9,1.8],[11,9],[11.2,55],[11.3,3],[11.5,1.5],[11.8,5],[12,48],[12.1,2.1],[12.3,100],[12.4,12],[12.5,257],[12.6,115],[12.7,302],[12.9,3.6],[13.2,24],[13.3,2.6],[13.5,162],[13.7,1440],[13.8,7],[14,3.4],[14.05,166],[14.4,129],[14.5,38],[14.7,257],[14.8,10],[15,170],[15.2,4.4],[15.5,70],[15.7,14],[16,380],[16,170],[16.3,5.6],[16.5,25],[16.6,560],[16.7,1070],[16.8,275],[17,1230],[17,9],[17.3,55],[17.4,1175],[17.5,7],[17.8,3300],[18,500],[18.1,4450],[18.2,18],[18.6,100]]
const ausHigh: Pair[] = [[10.5,7],[11.3,60],[12,24],[12.6,8],[13.1,3],[13.4,575],[14,18],[14.6,80],[15,5],[15.4,30],[15.8,10],[16.2,140],[16.6,16],[17,40],[17.4,8],[17.8,123],[18,257],[18,22],[18.2,6.5],[18.3,3000],[18.4,50],[18.6,13],[18.8,170],[18.9,2880],[19,30],[19.1,8],[19.2,1520],[19.2,500],[19.3,2400],[19.3,75],[19.4,630],[19.4,18],[19.5,11],[19.6,220],[19.6,40],[19.7,7.5],[19.8,110],[19.8,25],[19.9,14],[20,60],[20,170],[20,30],[20,9]]
const ausMore: Pair[] = [[10.6,1.6],[11,3.6],[11.4,1.9],[11.8,2.4],[12.2,8],[12.5,2.6],[12.9,5],[13.2,3],[13.5,12],[13.8,3.6],[14.1,6],[14.4,18],[14.6,3.4],[14.9,9],[15.2,5.5],[15.5,14],[15.8,4.2],[16.1,22],[16.3,6],[16.6,9],[16.9,4.6],[17.1,14],[17.4,30],[17.6,6],[17.9,60],[18,10],[18.3,7.5],[18.6,24],[18.9,8],[19.1,40],[19.3,12],[19.5,90],[19.7,20],[19.9,45],[16.6,70],[17.8,170],[19.1,250],[15.2,100]]
const ausEdges: Pair[][] = [[[2.9,1],[10,1],[10,65],[9,65],[7.5,17],[5.5,5.5],[3.8,2]],[[4.8,1],[10,1],[10,30],[9,14],[7.5,5],[6,2.2]],[[10,1.1],[13,2],[16,3.6],[20,6.8],[20,230],[18,220],[15,60],[12,25],[10.3,7]],[[15,3.2],[17.5,4.6],[20,6.8],[20,35],[18,35],[16,9]]]
const ausNotes: Note[] = [['Maximum only',525,121],['Growth10%',176,383],['dominated',176,446],['Reference',577,709],['dominated',577,774],['Minimum only',132,733]]

const panels = [
  { name: 'Canada', box: [190, 63, 333, 331], xMax: 20, lines: [4040, 404, 40], exps: [0, 1, 2, 3], gap: 36, tag: 85, low: canadaLow, mid: canadaMid, high: canadaHigh, more: canadaMore, edges: canadaEdges, notes: canadaNotes },
  { name: 'EU', box: [715, 61, 326, 331], xMax: 20, lines: [940, 94, 10], exps: [0, 0.5, 1, 1.5, 2, 2.5, 3], gap: 42, tag: 55, low: euLow, mid: euMid, high: euHigh, more: euMore, edges: euEdges, notes: euNotes },
  { name: 'UK', box: [1171, 63, 326, 331], xMax: 20, lines: [780, 78, 8], exps: [0, 0.5, 1, 1.5, 2, 2.5, 3], gap: 42, tag: 80, low: ukLow, mid: ukMid, high: ukHigh, more: ukMore, edges: ukEdges, notes: ukNotes, floorLow: ukFloorLow },
  { name: 'China', box: [1670, 62, 333, 331], xMax: 25, lines: [4030, 403, 40], exps: [0, 1, 2, 3], gap: 35, tag: 59, low: chinaLow, mid: chinaMid, high: chinaHigh, more: chinaMore, edges: chinaEdges, notes: chinaNotes, floorLow: chinaFloorLow },
  { name: 'South Korea', box: [1674, 501, 333, 331], xMax: 20, lines: [2030, 203, 20], exps: [0, 1, 2, 3], gap: 35, tag: 84, low: koreaLow, mid: koreaMid, high: koreaHigh, more: koreaMore, edges: koreaEdges, notes: koreaNotes, floorLow: koreaFloorLow, floorHigh: koreaFloorHigh },
  { name: 'US', box: [186, 586, 332, 331], xMax: 20, lines: [5060, 506, 51], exps: [0, 1, 2, 3], gap: 35, tag: 61, low: usLow, mid: usMid, high: usHigh, more: usMore, edges: usEdges, notes: usNotes },
  { name: 'Middle East', box: [463, 1087, 326, 331], xMax: 20, lines: [177, 18, 2], exps: [0, 0.5, 1, 1.5, 2], gap: 41, tag: 82, low: meLow, mid: meMid, high: meHigh, more: meMore, edges: meEdges, notes: meNotes, floorLow: meFloorLow, floorHigh: meFloorHigh },
  { name: 'Thailand', box: [868, 1088, 326, 330], xMax: 20, lines: [104, 10, 1], exps: [0, 0.5, 1, 1.5, 2], gap: 42, tag: 56, low: thaiLow, mid: thaiMid, high: thaiHigh, more: thaiMore, edges: thaiEdges, notes: thaiNotes, floorLow: thaiFloorLow, floorHigh: thaiFloorHigh },
  { name: 'Indonesia', box: [1266, 1088, 326, 331], xMax: 20, lines: [159, 16, 2], exps: [0, 0.5, 1, 1.5, 2], gap: 42, tag: 79, low: indoLow, mid: indoMid, high: indoHigh, more: indoMore, edges: indoEdges, notes: indoNotes, floorLow: indoFloorLow, floorHigh: indoFloorHigh },
  { name: 'Australia', box: [1672, 1086, 333, 331], xMax: 20, lines: [5020, 502, 50], exps: [0, 1, 2, 3], gap: 35, tag: 54, low: ausLow, mid: ausMid, high: ausHigh, more: ausMore, edges: ausEdges, notes: ausNotes },
]

// ---- caption, line by line ------------------------------------------------
type Seg = [string, string]
const captionLeft: [number, Seg[]][] = [
  [995, [['b', 'Fig. 2 | Schematic overview of geographically resolved CO'], ['bs', '2'], ['b', ' storage scale-up']]],
  [964, [['b', 'projections.'], ['n', ' Schematic map of global storage regions each associated with a']]],
  [1020, [['n', 'degree of CCS readiness to commercialise large-scale CO'], ['s', '2'], ['n', ' storage (See methods).']]],
  [1020, [['n', 'The points in the graphs each represent the parameterisation of a modelled scale-']]],
  [1015, [['n', 'up trajectory, parameterised by the growth rate and storage resource, and within']]],
  [1020, [['n', 'regions of the graph corresponding to the Reference (constrained by central esti-']]],
  [1020, [['n', 'mates of storage resource bases and up to 20% of growth rate for all regions except']]],
  [990, [['n', '25% for China), Minimum (constrained by a resource base that is 10% of central']]],
]
const captionRight: [number, Seg[]][] = [
  [1019, [['n', 'estimates and up to 10% of growth rate for all regions), Maximum (constrained by a']]],
  [1019, [['n', 'resource base that is an order of magnitude higher than central estimates and up to']]],
  [1019, [['n', '20% of growth rate for all regions except 25% for China) and Growth10% scenarios']]],
  [1006, [['n', '(constrained by central estimates of storage resource bases and a growth rate of']]],
  [1008, [['n', '10%; see Table '], ['l', '1'], ['n', '). The colour of each marker shows the combined global storage']]],
  [1019, [['n', 'rate to which this trajectory contributes. Here the graphs are shown as a part of a']]],
  [994, [['n', 'schematic to illustrate the entirety of the modelling results. The full-size plot of']]],
  [596, [['n', 'each region is available in Supplementary Fig. 1.']]],
]
const readinessKeys = [['High', '#172D4E'], ['Medium', '#5E8BD1'], ['Low', '#A9CBFF']]
const rateTicks = [16, 12, 8, 4]

const toXY = (list: Pair[]) => list.map(([x, y]) => ({ x, y }))

function WorldMap() {
  return (
    <div style={{ position: 'absolute', left: 0, top: 0 }}>
      <ScatterChart width={2139} height={1819} margin={{ top: 0, right: 0, bottom: 0, left: 0 }}>
        <XAxis type="number" dataKey="x" domain={[-1029 / 4.36, 1110 / 4.36]} hide allowDataOverflow />
        <YAxis type="number" dataKey="y" domain={[-1000 / 401, 819 / 401]} hide allowDataOverflow />
        {coastlines.map((r, i) => (
          <Scatter key={'c' + i} data={r.map(project)} isAnimationActive={false} shape={noDot} line={outline('#fff', '#56A0A4', 1.4, true)} />
        ))}
        {highReadiness.map((r, i) => (
          <Scatter key={'h' + i} data={r.map(project)} isAnimationActive={false} shape={noDot} line={outline('#172D4E', '#172D4E', 1, true)} />
        ))}
        {mediumReadiness.map((r, i) => (
          <Scatter key={'m' + i} data={r.map(project)} isAnimationActive={false} shape={noDot} line={outline('#5E8BD1', '#4C8F9F', 1.2, true)} />
        ))}
        {lowReadiness.map((r, i) => (
          <Scatter key={'l' + i} data={r.map(project)} isAnimationActive={false} shape={noDot} line={outline('#A9CBFF', '#56A0A4', 1.2, true)} />
        ))}
        {lakes.map((r, i) => (
          <Scatter key={'k' + i} data={r.map(project)} isAnimationActive={false} shape={noDot} line={outline('#fff', '#56A0A4', 0.8, true)} />
        ))}
        {borderLines.map((r, i) => (
          <Scatter key={'b' + i} data={r.map(project)} isAnimationActive={false} shape={noDot} line={outline('none', '#3F8F96', 1.2, false)} />
        ))}
      </ScatterChart>
    </div>
  )
}

function LogTick({ x, y, payload }: any) {
  const exp = Math.round(Math.log10(payload.value) * 10) / 10
  return (
    <text x={x - 1} y={y + 4} textAnchor="end" fontFamily={SANS} fontSize={12.5} fill="#777">
      10<tspan dy={-5} fontSize={8}>{exp}</tspan>
    </text>
  )
}

const edgeStyles = [
  { fill: '#A99EDC', opacity: 0.28, blur: 3 },
  { fill: '#A99EDC', opacity: 0.6, blur: 4 },
  { fill: '#A3B3CD', opacity: 0.12, blur: 5 },
  { fill: '#76A8A8', opacity: 0.36, blur: 5 },
]

const dot = (fill: string) => (p: any) => <circle cx={p.cx} cy={p.cy} r={3.5} fill={fill} fillOpacity={0.4} />

function Panel({ panel }: { panel: (typeof panels)[number] & { floorLow?: Pair[]; floorHigh?: Pair[] } }) {
  const [left, top, w, h] = panel.box
  const padL = 70
  const padT = 10
  const padR = 10
  const padB = 45
  const [upper, central, lower] = panel.lines
  const span = Math.log10(upper)
  const logMin = -0.05 * span
  const logMax = 1.05 * span
  const xMin = -0.05 * panel.xMax
  const xMax = 1.05 * panel.xMax
  const yTicks = panel.exps.map((e) => Math.pow(10, e))
  const step = panel.exps[1] - panel.exps[0]
  const minorY = panel.exps.map((e) => Math.pow(10, e + step / 2))
  const xTicks = panel.xMax === 25 ? [0, 5, 10, 15, 20, 25] : [0, 5, 10, 15, 20]
  const minorX = xTicks.map((t) => t + 2.5).filter((t) => t <= panel.xMax)
  const noteX = (p: number) => xMin + (p / 1000) * (xMax - xMin)
  const noteY = (p: number) => Math.pow(10, logMax - (p / 1000) * (logMax - logMin))
  const bottom = Math.pow(10, logMin)
  const dash = { stroke: '#333', strokeWidth: 1.4, strokeDasharray: '3.5 3.5', ifOverflow: 'visible' as const }
  return (
    <div style={{ position: 'absolute', left: left - padL, top: top - padT }}>
      <div style={{ position: 'absolute', left: padL, top: padT, width: w, height: h, background: '#fff' }} />
      <div style={{ position: 'absolute', left: padL - 2, top: -22, fontFamily: SANS, fontSize: 27.5, lineHeight: '32px', color: '#000', whiteSpace: 'nowrap' }}>{panel.name}</div>
      <div style={{ position: 'relative' }}>
        <ScatterChart width={w + padL + padR} height={h + padT + padB} margin={{ top: padT, right: padR, bottom: 0, left: 0 }}>
          <XAxis
            type="number"
            dataKey="x"
            domain={[xMin, xMax]}
            ticks={xTicks}
            height={padB}
            allowDataOverflow
            axisLine={false}
            tickSize={3}
            tickMargin={1}
            tickLine={{ stroke: '#777' }}
            tick={{ fontFamily: SANS, fontSize: 12.5, fill: '#777' }}
            label={{ value: 'Growth Rate [%]', position: 'center', dy: 2, fontFamily: SANS, fontSize: 15.4, fill: '#444' }}
          />
          <YAxis
            type="number"
            dataKey="y"
            scale="log"
            domain={[Math.pow(10, logMin), Math.pow(10, logMax)]}
            ticks={yTicks}
            width={padL}
            allowDataOverflow
            axisLine={false}
            tickSize={3}
            tickLine={{ stroke: '#777' }}
            tick={<LogTick />}
            label={{ value: 'Storage resource required [Gt]', angle: -90, position: 'center', dx: 35 - panel.gap, fontFamily: SANS, fontSize: 15.4, fill: '#444' }}
          />
          <CartesianGrid stroke="#F5F5F5" strokeWidth={0.9} horizontalValues={minorY} verticalValues={minorX} />
          <CartesianGrid stroke="#ECECEC" strokeWidth={1.3} horizontalValues={yTicks} verticalValues={xTicks} />
          {panel.edges.map((edge, i) => (
            <Scatter
              key={'e' + i}
              data={toXY(edge)}
              isAnimationActive={false}
              shape={noDot}
              line={outline(edgeStyles[i].fill, 'none', 0, true, { fillOpacity: edgeStyles[i].opacity, style: { filter: `blur(${edgeStyles[i].blur}px)` } })}
            />
          ))}
          {panel.floorLow && <Scatter data={toXY(panel.floorLow)} isAnimationActive={false} shape={noDot} line={outline('none', '#B4ABE2', 6.5, false)} />}
          {panel.floorHigh && <Scatter data={toXY(panel.floorHigh)} isAnimationActive={false} shape={noDot} line={outline('none', '#86BBAF', 6.5, false)} />}
          <Scatter data={toXY(panel.low)} fill="#A99EDC" isAnimationActive={false} shape={dot('#A99EDC')} />
          <Scatter data={toXY(panel.mid)} fill="#9AAFCC" isAnimationActive={false} shape={dot('#9AAFCC')} />
          <Scatter data={toXY(panel.more)} fill="#8AA9B8" isAnimationActive={false} shape={dot('#8AA9B8')} />
          <Scatter data={toXY(panel.high)} fill="#6FAAA0" isAnimationActive={false} shape={dot('#6FAAA0')} />
          <ReferenceLine y={upper} {...dash} />
          <ReferenceLine y={central} {...dash} />
          <ReferenceLine segment={[{ x: xMin, y: lower }, { x: 10, y: lower }]} {...dash} />
          <ReferenceLine segment={[{ x: 10, y: bottom }, { x: 10, y: central }]} {...dash} />
          {panel.lines.map((value) => (
            <ReferenceDot
              key={value}
              x={noteX(panel.tag)}
              y={value}
              r={0}
              ifOverflow="visible"
              shape={(d: any) => (
                <text x={d.cx} y={d.cy - 2} fontFamily={SANS} fontSize={16.5} fill="#111">{`${value} Gt`}</text>
              )}
            />
          ))}
          {panel.notes.map(([text, px, py]) => (
            <ReferenceDot
              key={text + py}
              x={noteX(px)}
              y={noteY(py)}
              r={0}
              ifOverflow="visible"
              shape={(d: any) => (
                <text x={d.cx} y={d.cy} dominantBaseline="central" fontFamily={SANS} fontSize={17.3} fill="#000">{text}</text>
              )}
            />
          ))}
        </ScatterChart>
      </div>
      <div style={{ position: 'absolute', left: padL, top: padT, width: w, height: h, boxSizing: 'border-box', border: '2px solid #6B6B6B', pointerEvents: 'none' }} />
    </div>
  )
}

function CaptionLines({ lines, x }: { lines: [number, Seg[]][]; x: number }) {
  return (
    <>
      {lines.map(([width, segs], i) => (
        <text key={i} x={x} y={1515 + i * 39.9} fontFamily={SERIF} fontSize={29} fill="#111" textLength={width} lengthAdjust="spacingAndGlyphs">
          {segs.map(([kind, str], j) => {
            const isSub = kind === 's' || kind === 'bs'
            const afterSub = j > 0 && (segs[j - 1][0] === 's' || segs[j - 1][0] === 'bs')
            return (
              <tspan
                key={j}
                dy={isSub ? 6 : afterSub ? -6 : 0}
                fontSize={isSub ? 19 : 29}
                fontWeight={kind === 'b' || kind === 'bs' ? 700 : 400}
                fill={kind === 'l' ? '#1E6FB3' : '#111'}
              >
                {str}
              </tspan>
            )
          })}
        </text>
      ))}
    </>
  )
}

export default function App() {
  return (
    <div style={{ position: 'absolute', left: 0, top: 0, width: 2139, height: 1819, background: '#fff', overflow: 'hidden' }}>
      <WorldMap />

      {/* readiness key */}
      <div style={{ position: 'absolute', left: 809, top: 603, fontFamily: SANS, fontWeight: 700, fontSize: 20, lineHeight: '24px', color: '#111', whiteSpace: 'nowrap' }}>CCS Readiness</div>
      {readinessKeys.map(([label, colour], i) => (
        <div key={label}>
          <div style={{ position: 'absolute', left: 812, top: 631 + i * 28, width: 28, height: 21, background: colour }} />
          <div style={{ position: 'absolute', left: 850, top: 629 + i * 29, fontFamily: SANS, fontSize: 18.3, lineHeight: '24px', color: '#111' }}>{label}</div>
        </div>
      ))}

      {/* storage rate key */}
      <div style={{ position: 'absolute', left: 142, top: 1078, fontFamily: SANS, fontWeight: 700, fontSize: 26, lineHeight: '34px', color: '#111', whiteSpace: 'nowrap' }}>Global Storage</div>
      <div style={{ position: 'absolute', left: 142, top: 1120, fontFamily: SANS, fontWeight: 700, fontSize: 26, lineHeight: '34px', color: '#111', whiteSpace: 'nowrap' }}>Rate [Gt/yr]</div>
      <div style={{ position: 'absolute', left: 146, top: 1160, width: 51, height: 252, background: 'linear-gradient(to bottom, #5DBA8E, #7FB0A8 30%, #8FA8B4 50%, #9AA3C4 75%, #A99EDC)' }} />
      {rateTicks.map((t, i) => {
        const y = [1167, 1223, 1286, 1349][i]
        return (
          <div key={t}>
            {i > 0 && <div style={{ position: 'absolute', left: 146, top: y - 1, width: 10, height: 2, background: '#ffffff99' }} />}
            {i > 0 && <div style={{ position: 'absolute', left: 187, top: y - 1, width: 10, height: 2, background: '#ffffff99' }} />}
            <div style={{ position: 'absolute', left: 209, top: y - 14, fontFamily: SANS, fontSize: 23, lineHeight: '28px', color: '#111' }}>{t}</div>
          </div>
        )
      })}

      {panels.map((p) => (
        <Panel key={p.name} panel={p} />
      ))}

      <svg width={2139} height={1819} style={{ position: 'absolute', left: 0, top: 0, pointerEvents: 'none' }}>
        <CaptionLines lines={captionLeft} x={35} />
        <CaptionLines lines={captionRight} x={1101} />
        <line x1={35} x2={2120} y1={1817} y2={1817} stroke="#CFCFCF" strokeWidth={2} />
      </svg>
    </div>
  )
}
